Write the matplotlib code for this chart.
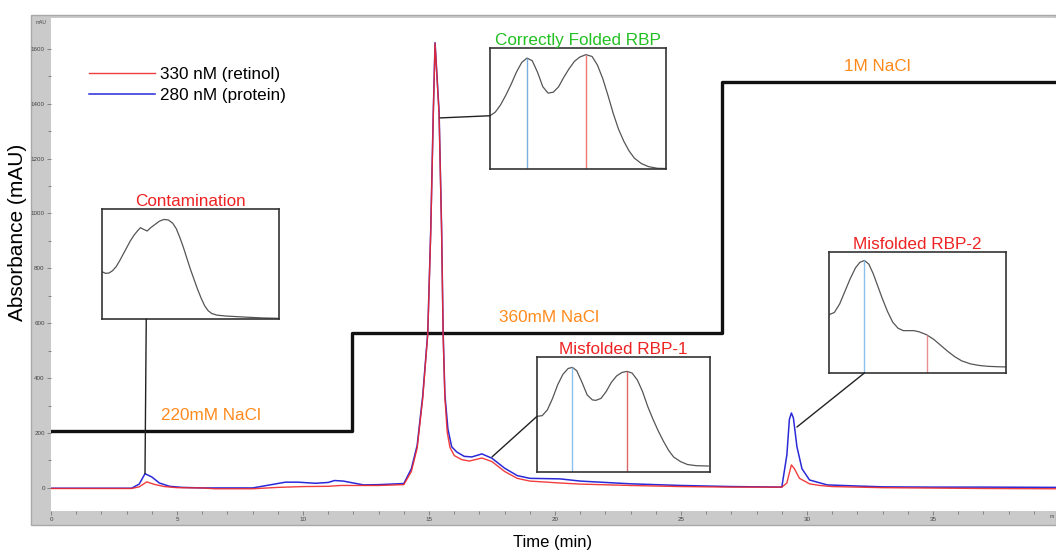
import numpy as np
import matplotlib
matplotlib.use('Agg')
import matplotlib.pyplot as plt
from matplotlib.patches import Rectangle, ConnectionPatch

plt.rcParams['font.family'] = ['Liberation Sans', 'DejaVu Sans']

# main chromatogram (time in min, absorbance in mAU)
t_red = [0, 3.2, 3.5, 3.8, 4.1, 4.5, 5, 6, 6.5, 8, 9, 10, 11, 11.5, 12, 13, 14,
         14.3, 14.53, 14.75, 14.95, 15.07, 15.17, 15.24, 15.4, 15.5, 15.56, 15.63,
         15.72, 15.83, 16.0, 16.3, 16.6, 17.1, 17.5, 18, 18.5, 19, 20.2, 21, 23, 25,
         27, 29, 29.2, 29.38, 29.5, 29.7, 30.1, 30.5, 31, 33, 37, 39.9]
a_red = [-2, -2, 4, 22, 13, 5, 1, 0, -3, -3, 2, 5, 6, 9, 9, 9, 12,
         60, 145, 325, 560, 935, 1360, 1620, 1360, 935, 560, 330,
         205, 148, 118, 103, 98, 109, 96, 60, 35, 25, 18, 14, 9, 5,
         3, 3, 18, 84, 70, 35, 15, 9, 5, 1, -2, -3]

t_blue = [0, 3.2, 3.5, 3.73, 4.0, 4.3, 4.7, 5.2, 6, 8, 8.5, 9.3, 9.8, 10.5, 11,
          11.25, 11.6, 12.4, 13, 14, 14.3, 14.53, 14.75, 14.95, 15.07, 15.17, 15.24,
          15.4, 15.5, 15.56, 15.63, 15.75, 15.9, 16.1, 16.4, 16.7, 17.1, 17.5, 18,
          18.5, 19, 20.2, 21, 23, 25, 27, 29, 29.2, 29.3, 29.38, 29.46, 29.6, 29.8,
          30.1, 30.8, 32, 33, 35, 37, 39.9]
a_blue = [-1, -1, 14, 52, 40, 18, 6, 2, 0, 0, 8, 21, 21, 17, 20,
          27, 25, 11, 12, 16, 70, 155, 335, 565, 945, 1370, 1622,
          1370, 945, 570, 340, 215, 150, 131, 115, 113, 124, 108, 72,
          45, 35, 33, 25, 15, 9, 5, 3, 120, 250, 273, 255, 150, 70,
          29, 11, 7, 4, 3, 3, 2]

# NaCl step gradient
t_salt = [0, 11.94, 11.94, 26.63, 26.63, 39.9]
a_salt = [208, 208, 565, 565, 1480, 1480]
salt_labels = ['220mM NaCl', '360mM NaCl', '1M NaCl']

# inset spectra (relative position, relative absorbance)
cont_x = [0, 0.02, 0.04, 0.06, 0.08, 0.10, 0.12, 0.14, 0.16, 0.18, 0.20, 0.217,
          0.235, 0.255, 0.275, 0.30, 0.325, 0.35, 0.375, 0.40, 0.42, 0.44, 0.46,
          0.48, 0.50, 0.52, 0.54, 0.56, 0.58, 0.60, 0.62, 0.65, 0.70, 0.80, 0.90, 1.0]
cont_y = [0.43, 0.415, 0.418, 0.44, 0.476, 0.53, 0.59, 0.65, 0.71, 0.76, 0.80, 0.83,
          0.815, 0.80, 0.83, 0.86, 0.89, 0.905, 0.90, 0.87, 0.82, 0.74, 0.65,
          0.55, 0.45, 0.36, 0.27, 0.19, 0.12, 0.075, 0.05, 0.035, 0.027, 0.018, 0.01, 0.006]

cf_x = [0, 0.03, 0.06, 0.09, 0.12, 0.15, 0.18, 0.21, 0.24, 0.27, 0.30, 0.33, 0.36,
        0.39, 0.42, 0.45, 0.48, 0.51, 0.545, 0.58, 0.61, 0.64, 0.67, 0.70, 0.73,
        0.76, 0.79, 0.82, 0.86, 0.90, 0.95, 1.0]
cf_y = [0.44, 0.47, 0.53, 0.61, 0.70, 0.80, 0.88, 0.917, 0.895, 0.80, 0.68, 0.627,
        0.635, 0.68, 0.76, 0.83, 0.89, 0.925, 0.945, 0.93, 0.86, 0.75, 0.61, 0.46,
        0.33, 0.23, 0.15, 0.09, 0.045, 0.02, 0.006, 0.004]

m1_x = [0, 0.03, 0.06, 0.09, 0.12, 0.15, 0.18, 0.205, 0.23, 0.26, 0.29, 0.32, 0.34,
        0.37, 0.40, 0.43, 0.46, 0.49, 0.52, 0.55, 0.58, 0.61, 0.64, 0.67, 0.70,
        0.73, 0.76, 0.79, 0.83, 0.87, 0.92, 0.99]
m1_y = [0.484, 0.49, 0.54, 0.64, 0.76, 0.85, 0.90, 0.91, 0.88, 0.78, 0.67, 0.627,
        0.623, 0.64, 0.70, 0.78, 0.835, 0.865, 0.875, 0.86, 0.80, 0.70, 0.57, 0.46,
        0.36, 0.27, 0.19, 0.13, 0.09, 0.065, 0.055, 0.052]

m2_x = [0, 0.03, 0.06, 0.09, 0.12, 0.15, 0.175, 0.2, 0.225, 0.25, 0.275, 0.30,
        0.33, 0.36, 0.39, 0.42, 0.45, 0.48, 0.51, 0.55, 0.59, 0.63, 0.67, 0.71,
        0.75, 0.80, 0.85, 0.90, 0.95, 1.0]
m2_y = [0.482, 0.50, 0.57, 0.675, 0.78, 0.87, 0.915, 0.93, 0.90, 0.82, 0.72, 0.62,
        0.51, 0.42, 0.37, 0.35, 0.35, 0.35, 0.34, 0.317, 0.28, 0.23, 0.18, 0.135,
        0.10, 0.075, 0.062, 0.055, 0.052, 0.05]

W, H = 1056, 550
fig = plt.figure(figsize=(W / 100, H / 100), dpi=100)


def px_rect(x0, y0, x1, y1):
    return [x0 / W, 1 - y1 / H, (x1 - x0) / W, (y1 - y0) / H]


# grey instrument frame
fig.patches.append(Rectangle((31 / W, 1 - 525 / H), (W - 31) / W, (525 - 15) / H,
                             transform=fig.transFigure, facecolor='#cacaca',
                             edgecolor='#a8a8a8', lw=1, zorder=-5))

ax = fig.add_axes(px_rect(51, 18, 1056, 511))
ax.set_zorder(1)
ax.set_facecolor('white')
ax.plot(t_blue, a_blue, color='#2a2ad8', lw=1.1, label='280 nM (protein)', zorder=3)
ax.plot(t_red, a_red, color='#f02828', lw=1.0, alpha=0.9, label='330 nM (retinol)', zorder=4)
ax.plot(t_salt, a_salt, color='#111111', lw=2.4, zorder=2)

ax.set_xlim(0, 39.88)
ax.set_ylim(-84, 1712)
for s in ax.spines.values():
    s.set_visible(False)
ax.set_xticks(np.arange(0, 40, 5))
ax.set_xticks(np.arange(0, 40, 1), minor=True)
ax.set_yticks(np.arange(0, 1700, 200))
ax.set_yticks(np.arange(0, 1700, 100), minor=True)
ax.tick_params(which='both', direction='out', color='#777777', labelsize=4.5,
               labelcolor='#444444', width=0.6)
ax.tick_params(which='major', length=3, pad=1.5)
ax.tick_params(which='minor', length=2)

handles, labels = ax.get_legend_handles_labels()
ax.legend(handles[::-1], labels[::-1], loc='upper left', bbox_to_anchor=(0.029, 0.918),
          frameon=False, fontsize=12.3, handlelength=3.9, handletextpad=0.3,
          labelspacing=0.38, borderpad=0)

fs = 12.3
orange = '#ff8a1c'
ax.text(6.35, 265, salt_labels[0], color=orange, fontsize=fs, ha='center', va='center')
ax.text(19.75, 620, salt_labels[1], color=orange, fontsize=fs, ha='center', va='center')
ax.text(32.8, 1537, salt_labels[2], color=orange, fontsize=fs, ha='center', va='center')

fig.text(18 / W, 1 - 232 / H, 'Absorbance (mAU)', rotation=90, fontsize=15,
         ha='center', va='center')
fig.text(553 / W, 1 - 543 / H, 'Time (min)', fontsize=12, ha='center', va='center')
fig.text(41 / W, 1 - 22 / H, 'mAU', fontsize=3.5, color='#444444', ha='center', va='center')
fig.text(1052 / W, 1 - 517 / H, 'm', fontsize=3.5, color='#444444', ha='center', va='center')


def inset(rect, xs, ys, title, tcolor, marks, start, end_xy):
    iax = fig.add_axes(px_rect(*rect))
    iax.set_zorder(2)
    iax.plot(xs, ys, color='#555555', lw=0.9)
    for mx, mc in marks:
        iax.vlines(mx, 0, np.interp(mx, xs, ys), color=mc, lw=1)
    iax.set_xlim(0, 1)
    iax.set_ylim(0, 1)
    iax.set_xticks([])
    iax.set_yticks([])
    for s in iax.spines.values():
        s.set_color('#333333')
        s.set_linewidth(1.2)
    iax.set_title(title, color=tcolor, fontsize=fs, pad=2)
    con = ConnectionPatch(xyA=start, coordsA=ax.transData, xyB=end_xy,
                          coordsB=iax.transAxes, color='#222222', lw=1)
    con.set_zorder(3)
    fig.add_artist(con)
    return iax


inset((102, 209, 279, 319), cont_x, cont_y, 'Contamination', '#ee2222', [],
      (3.73, 52), (0.25, 0))
inset((490, 48, 666, 169), cf_x, cf_y, 'Correctly Folded RBP', '#22c022',
      [(0.21, '#7aaee0'), (0.545, '#ee7777')], (15.44, 1348), (0, 0.44))
inset((537, 357, 710, 472), m1_x, m1_y, 'Misfolded RBP-1', '#ee2222',
      [(0.205, '#8cc0ee'), (0.52, '#dd6666')], (17.5, 113), (0, 0.484))
inset((829, 252, 1006, 373), m2_x, m2_y, 'Misfolded RBP-2', '#ee2222',
      [(0.2, '#8cc0ee'), (0.553, '#e89090')], (29.6, 222), (0.2, 0))

fig.savefig('out.png', dpi=100)
